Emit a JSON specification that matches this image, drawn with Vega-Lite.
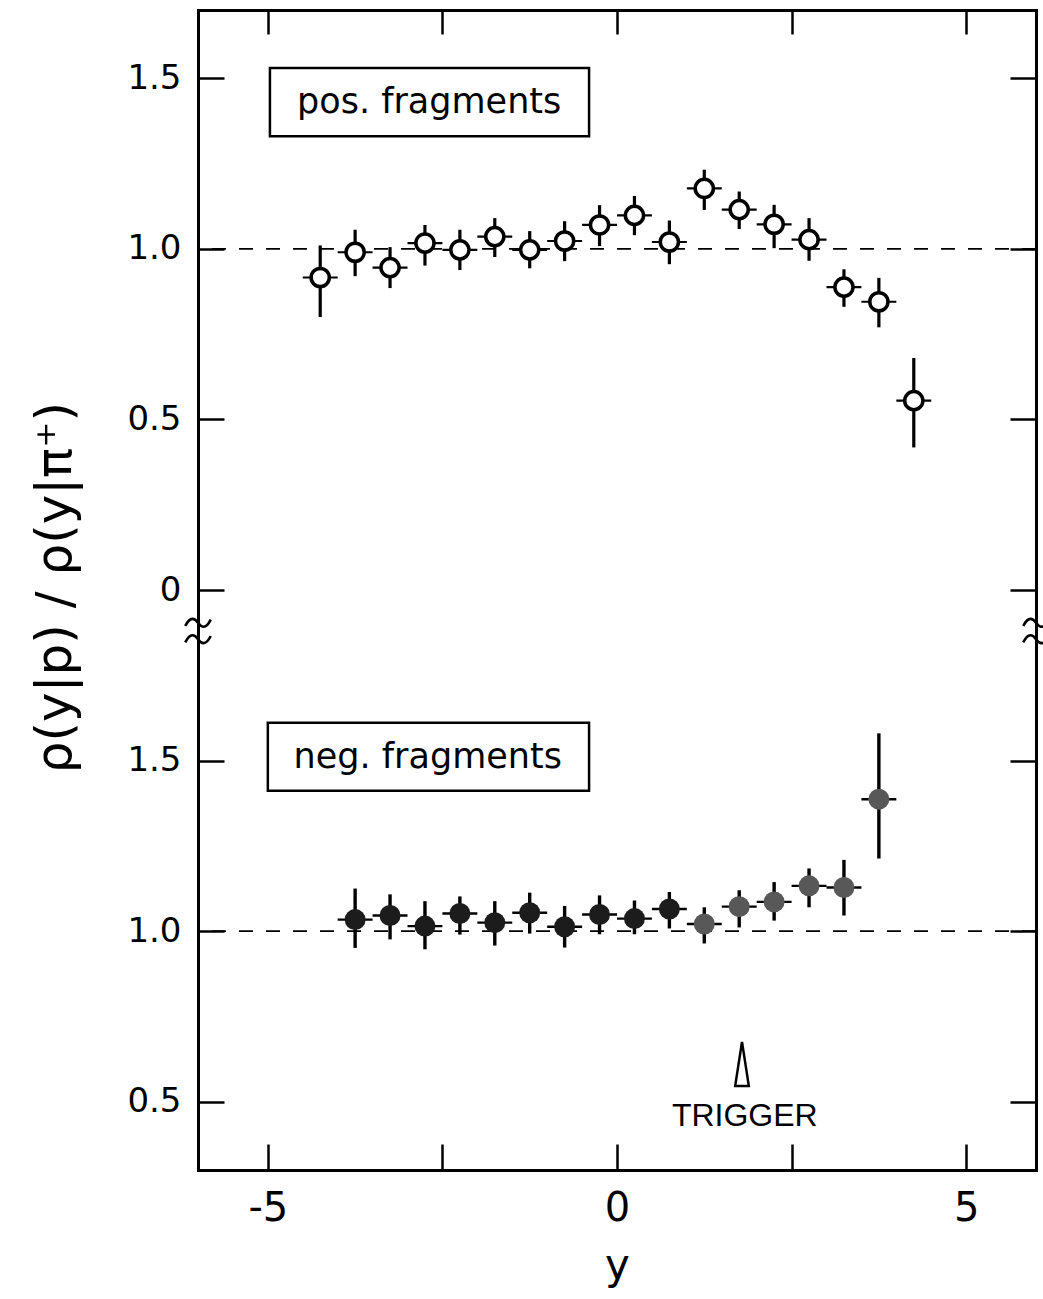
{
  "$schema": "https://vega.github.io/schema/vega-lite/v6.json",
  "background": "white",
  "padding": {"left": 30, "top": 8, "right": 5, "bottom": 4},
  "bounds": "flush",
  "spacing": 0,
  "config": {
    "view": {"stroke": null},
    "font": "DejaVu Sans",
    "axis": {
      "grid": false,
      "domainColor": "#000",
      "domainWidth": 3,
      "domainCap": "square",
      "tickColor": "#000",
      "tickWidth": 2.5,
      "labelColor": "#000",
      "labelFont": "DejaVu Sans",
      "titleColor": "#000",
      "titleFont": "DejaVu Sans",
      "titleFontWeight": "normal"
    }
  },
  "datasets": {
    "pos": [
      {"x": -4.25, "x0": -4.5, "x1": -4.0, "v": 0.916, "lo": 0.80, "hi": 1.01},
      {"x": -3.75, "x0": -4.0, "x1": -3.5, "v": 0.99, "lo": 0.92, "hi": 1.056},
      {"x": -3.25, "x0": -3.5, "x1": -3.0, "v": 0.945, "lo": 0.885, "hi": 1.005},
      {"x": -2.75, "x0": -3.0, "x1": -2.5, "v": 1.017, "lo": 0.951, "hi": 1.07},
      {"x": -2.25, "x0": -2.5, "x1": -2.0, "v": 0.997, "lo": 0.938, "hi": 1.056},
      {"x": -1.75, "x0": -2.0, "x1": -1.5, "v": 1.036, "lo": 0.976, "hi": 1.09},
      {"x": -1.25, "x0": -1.5, "x1": -1.0, "v": 0.997, "lo": 0.943, "hi": 1.052},
      {"x": -0.75, "x0": -1.0, "x1": -0.5, "v": 1.023, "lo": 0.964, "hi": 1.081},
      {"x": -0.25, "x0": -0.5, "x1": 0.0, "v": 1.07, "lo": 1.008, "hi": 1.128},
      {"x": 0.25, "x0": 0.0, "x1": 0.5, "v": 1.098, "lo": 1.04, "hi": 1.155},
      {"x": 0.75, "x0": 0.5, "x1": 1.0, "v": 1.02, "lo": 0.955, "hi": 1.083},
      {"x": 1.25, "x0": 1.0, "x1": 1.5, "v": 1.177, "lo": 1.114, "hi": 1.232},
      {"x": 1.75, "x0": 1.5, "x1": 2.0, "v": 1.115, "lo": 1.058, "hi": 1.168},
      {"x": 2.25, "x0": 2.0, "x1": 2.5, "v": 1.072, "lo": 1.002, "hi": 1.129},
      {"x": 2.75, "x0": 2.5, "x1": 3.0, "v": 1.027, "lo": 0.965, "hi": 1.09},
      {"x": 3.25, "x0": 3.0, "x1": 3.5, "v": 0.888, "lo": 0.83, "hi": 0.94},
      {"x": 3.75, "x0": 3.5, "x1": 4.0, "v": 0.845, "lo": 0.77, "hi": 0.915},
      {"x": 4.25, "x0": 4.0, "x1": 4.5, "v": 0.555, "lo": 0.418, "hi": 0.68}
    ],
    "neg": [
      {"x": -3.75, "x0": -4.0, "x1": -3.5, "v": 1.034, "lo": 0.951, "hi": 1.125},
      {"x": -3.25, "x0": -3.5, "x1": -3.0, "v": 1.046, "lo": 0.976, "hi": 1.108},
      {"x": -2.75, "x0": -3.0, "x1": -2.5, "v": 1.015, "lo": 0.947, "hi": 1.088},
      {"x": -2.25, "x0": -2.5, "x1": -2.0, "v": 1.052, "lo": 0.99, "hi": 1.102},
      {"x": -1.75, "x0": -2.0, "x1": -1.5, "v": 1.025, "lo": 0.958, "hi": 1.088},
      {"x": -1.25, "x0": -1.5, "x1": -1.0, "v": 1.054, "lo": 0.993, "hi": 1.113},
      {"x": -0.75, "x0": -1.0, "x1": -0.5, "v": 1.013, "lo": 0.952, "hi": 1.074},
      {"x": -0.25, "x0": -0.5, "x1": 0.0, "v": 1.049, "lo": 0.991, "hi": 1.105},
      {"x": 0.25, "x0": 0.0, "x1": 0.5, "v": 1.037, "lo": 0.991, "hi": 1.09},
      {"x": 0.75, "x0": 0.5, "x1": 1.0, "v": 1.065, "lo": 1.008, "hi": 1.115},
      {"x": 1.25, "x0": 1.0, "x1": 1.5, "v": 1.021, "lo": 0.964, "hi": 1.07},
      {"x": 1.75, "x0": 1.5, "x1": 2.0, "v": 1.072, "lo": 1.011, "hi": 1.12},
      {"x": 2.25, "x0": 2.0, "x1": 2.5, "v": 1.086, "lo": 1.031, "hi": 1.144},
      {"x": 2.75, "x0": 2.5, "x1": 3.0, "v": 1.133, "lo": 1.07, "hi": 1.184},
      {"x": 3.25, "x0": 3.0, "x1": 3.5, "v": 1.128, "lo": 1.046, "hi": 1.209},
      {"x": 3.75, "x0": 3.5, "x1": 4.0, "v": 1.387, "lo": 1.213, "hi": 1.58}
    ]
  },
  "vconcat": [
    {
      "width": 838,
      "height": 621,
      "data": {"name": "pos"},
      "resolve": {"axis": {"x": "independent", "y": "independent"}},
      "layer": [
        {
          "data": {"values": [{}]},
          "mark": {"type": "point", "opacity": 0},
          "encoding": {
            "x": {
              "datum": 0,
              "type": "quantitative",
              "scale": {"domain": [-6, 6], "nice": false, "zero": false},
              "axis": {"orient": "top", "values": [-5, -2.5, 0, 2.5, 5], "labels": false, "tickSize": -24, "title": null}
            },
            "y": {
              "datum": 1,
              "type": "quantitative",
              "scale": {"domain": [-0.12, 1.7], "nice": false, "zero": false},
              "axis": {
                "orient": "left",
                "values": [0, 0.5, 1, 1.5],
                "labelExpr": "datum.value == 0 ? '0' : format(datum.value, '.1f')",
                "labelFontSize": 34,
                "labelPadding": 43,
                "tickSize": -26,
                "title": "ρ(y|p)  /  ρ(y|π⁺)",
                "titleFontSize": 50,
                "titleAngle": -90,
                "titleX": -143,
                "titleY": 577,
                "titleAlign": "center",
                "titleBaseline": "middle"
              }
            }
          }
        },
        {
          "data": {"values": [{}]},
          "mark": {"type": "rule", "color": "#000", "strokeWidth": 1.8, "strokeDash": [14, 13]},
          "encoding": {
            "y": {
              "datum": 1,
              "type": "quantitative",
              "axis": {"orient": "right", "values": [0, 0.5, 1, 1.5], "labels": false, "tickSize": -26, "title": null}
            }
          }
        },
        {
          "mark": {"type": "rule", "color": "#000", "strokeWidth": 3.2},
          "encoding": {
            "x": {"field": "x", "type": "quantitative", "axis": null},
            "y": {"field": "lo", "type": "quantitative", "axis": null},
            "y2": {"field": "hi"}
          }
        },
        {
          "mark": {"type": "rule", "color": "#000", "strokeWidth": 2.2},
          "encoding": {
            "x": {"field": "x0", "type": "quantitative", "axis": null},
            "x2": {"field": "x1"},
            "y": {"field": "v", "type": "quantitative", "axis": null}
          }
        },
        {
          "mark": {"type": "point", "shape": "circle", "size": 330, "fill": "#fff", "stroke": "#000", "strokeWidth": 3.5, "opacity": 1},
          "encoding": {
            "x": {"field": "x", "type": "quantitative", "axis": null},
            "y": {"field": "v", "type": "quantitative", "axis": null}
          }
        },
        {
          "data": {"values": [{}]},
          "mark": {"type": "rect", "fill": "#fff", "stroke": "#000", "strokeWidth": 2.5},
          "encoding": {
            "x": {"datum": -4.97, "type": "quantitative", "axis": null},
            "x2": {"datum": -0.4},
            "y": {"datum": 1.53, "type": "quantitative", "axis": null},
            "y2": {"datum": 1.33}
          }
        },
        {
          "data": {"values": [{}]},
          "mark": {"type": "text", "text": "pos. fragments", "font": "DejaVu Sans", "fontSize": 35, "color": "#000", "align": "center", "baseline": "middle"},
          "encoding": {
            "x": {"datum": -2.69, "type": "quantitative", "axis": null},
            "y": {"datum": 1.43, "type": "quantitative", "axis": null}
          }
        },
        {
          "data": {"values": [{}]},
          "mark": {"type": "point", "shape": "M-1,0.25C-0.6,-0.55,-0.25,-0.35,0,0C0.25,0.35,0.6,0.55,1,-0.25", "size": 650, "filled": false, "fill": null, "stroke": "#000", "strokeWidth": 2.6, "opacity": 1},
          "encoding": {
            "x": {"datum": -6, "type": "quantitative", "axis": null},
            "y": {"datum": -0.096, "type": "quantitative", "axis": null}
          }
        },
        {
          "data": {"values": [{}]},
          "mark": {"type": "point", "shape": "M-1,0.25C-0.6,-0.55,-0.25,-0.35,0,0C0.25,0.35,0.6,0.55,1,-0.25", "size": 650, "filled": false, "fill": null, "stroke": "#000", "strokeWidth": 2.6, "opacity": 1},
          "encoding": {
            "x": {"datum": -6, "type": "quantitative", "axis": null},
            "y": {"datum": -0.144, "type": "quantitative", "axis": null}
          }
        },
        {
          "data": {"values": [{}]},
          "mark": {"type": "point", "shape": "M-1,0.25C-0.6,-0.55,-0.25,-0.35,0,0C0.25,0.35,0.6,0.55,1,-0.25", "size": 650, "filled": false, "fill": null, "stroke": "#000", "strokeWidth": 2.6, "opacity": 1},
          "encoding": {
            "x": {"datum": 6, "type": "quantitative", "axis": null},
            "y": {"datum": -0.096, "type": "quantitative", "axis": null}
          }
        },
        {
          "data": {"values": [{}]},
          "mark": {"type": "point", "shape": "M-1,0.25C-0.6,-0.55,-0.25,-0.35,0,0C0.25,0.35,0.6,0.55,1,-0.25", "size": 650, "filled": false, "fill": null, "stroke": "#000", "strokeWidth": 2.6, "opacity": 1},
          "encoding": {
            "x": {"datum": 6, "type": "quantitative", "axis": null},
            "y": {"datum": -0.144, "type": "quantitative", "axis": null}
          }
        }
      ]
    },
    {
      "width": 838,
      "height": 539,
      "data": {"name": "neg"},
      "resolve": {"axis": {"x": "independent", "y": "independent"}},
      "layer": [
        {
          "data": {"values": [{}]},
          "mark": {"type": "point", "opacity": 0},
          "encoding": {
            "x": {
              "datum": 0,
              "type": "quantitative",
              "scale": {"domain": [-6, 6], "nice": false, "zero": false},
              "axis": {
                "orient": "bottom",
                "values": [-5, -2.5, 0, 2.5, 5],
                "labelExpr": "datum.value == -5 ? '-5' : datum.value == 0 ? '0' : datum.value == 5 ? '5' : ''",
                "labelFontSize": 40,
                "labelPadding": 44,
                "tickSize": -26,
                "title": "y",
                "titleFontSize": 42,
                "titleY": 108,
                "titleBaseline": "alphabetic"
              }
            },
            "y": {
              "datum": 1,
              "type": "quantitative",
              "scale": {"domain": [0.3, 1.88], "nice": false, "zero": false},
              "axis": {
                "orient": "left",
                "values": [0.5, 1, 1.5],
                "labelExpr": "format(datum.value, '.1f')",
                "labelFontSize": 34,
                "labelPadding": 43,
                "tickSize": -26,
                "title": null
              }
            }
          }
        },
        {
          "data": {"values": [{}]},
          "mark": {"type": "rule", "color": "#000", "strokeWidth": 1.8, "strokeDash": [14, 13]},
          "encoding": {
            "y": {
              "datum": 1,
              "type": "quantitative",
              "axis": {"orient": "right", "values": [0.5, 1, 1.5], "labels": false, "tickSize": -26, "title": null}
            }
          }
        },
        {
          "mark": {"type": "rule", "color": "#000", "strokeWidth": 3.4},
          "encoding": {
            "x": {"field": "x", "type": "quantitative", "axis": null},
            "y": {"field": "lo", "type": "quantitative", "axis": null},
            "y2": {"field": "hi"}
          }
        },
        {
          "mark": {"type": "rule", "color": "#000", "strokeWidth": 2.4},
          "encoding": {
            "x": {"field": "x0", "type": "quantitative", "axis": null},
            "x2": {"field": "x1"},
            "y": {"field": "v", "type": "quantitative", "axis": null}
          }
        },
        {
          "mark": {"type": "point", "shape": "circle", "size": 440, "filled": true, "strokeWidth": 0, "opacity": 1},
          "encoding": {
            "x": {"field": "x", "type": "quantitative", "axis": null},
            "y": {"field": "v", "type": "quantitative", "axis": null},
            "color": {
              "field": "x",
              "type": "quantitative",
              "scale": {"type": "threshold", "domain": [1], "range": ["#1c1c1c", "#585858"]},
              "legend": null
            }
          }
        },
        {
          "data": {"values": [{}]},
          "mark": {"type": "rect", "fill": "#fff", "stroke": "#000", "strokeWidth": 2.5},
          "encoding": {
            "x": {"datum": -5.0, "type": "quantitative", "axis": null},
            "x2": {"datum": -0.4},
            "y": {"datum": 1.611, "type": "quantitative", "axis": null},
            "y2": {"datum": 1.412}
          }
        },
        {
          "data": {"values": [{}]},
          "mark": {"type": "text", "text": "neg. fragments", "font": "DejaVu Sans", "fontSize": 35, "color": "#000", "align": "center", "baseline": "middle"},
          "encoding": {
            "x": {"datum": -2.71, "type": "quantitative", "axis": null},
            "y": {"datum": 1.512, "type": "quantitative", "axis": null}
          }
        },
        {
          "data": {"values": [{}]},
          "mark": {"type": "point", "shape": "M0,-1L0.31,1L-0.31,1Z", "size": 1936, "filled": false, "fill": null, "stroke": "#000", "strokeWidth": 2.5, "opacity": 1},
          "encoding": {
            "x": {"datum": 1.79, "type": "quantitative", "axis": null},
            "y": {"datum": 0.611, "type": "quantitative", "axis": null}
          }
        },
        {
          "data": {"values": [{}]},
          "mark": {"type": "text", "text": "TRIGGER", "font": "Liberation Sans", "fontSize": 32, "color": "#000", "align": "center", "baseline": "middle"},
          "encoding": {
            "x": {"datum": 1.83, "type": "quantitative", "axis": null},
            "y": {"datum": 0.459, "type": "quantitative", "axis": null}
          }
        }
      ]
    }
  ]
}
